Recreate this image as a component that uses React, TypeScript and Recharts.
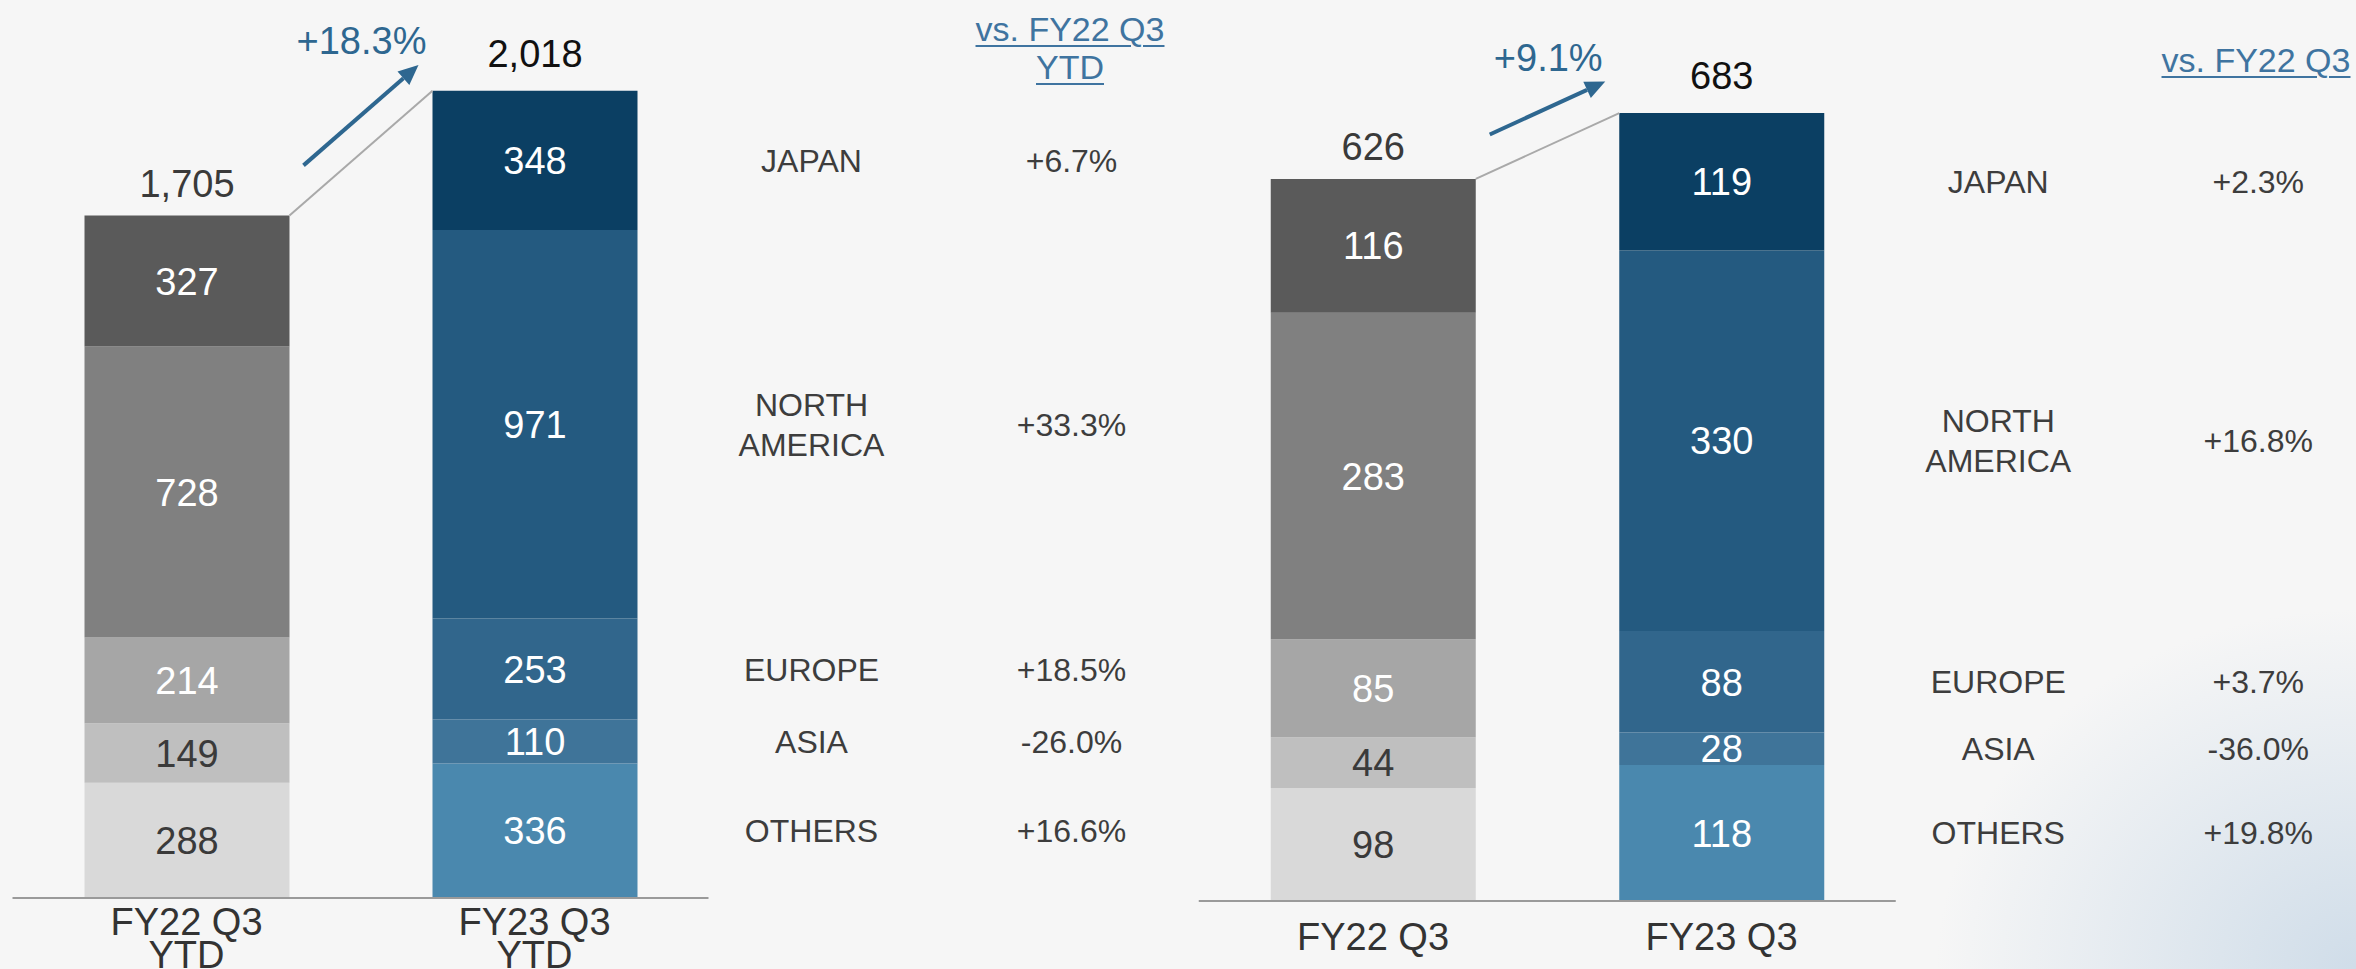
import React from "react";
import { BarChart, Bar, XAxis, YAxis, Cell, LabelList } from "recharts";

const regions = ["JAPAN", "NORTH AMERICA", "EUROPE", "ASIA", "OTHERS"];

// YTD panel
const ytdCategories = ["FY22 Q3\nYTD", "FY23 Q3\nYTD"];
const ytdFy22 = [327, 728, 214, 149, 288];
const ytdFy23 = [348, 971, 253, 110, 336];
const ytdGrowth = ["+6.7%", "+33.3%", "+18.5%", "-26.0%", "+16.6%"];
const ytdTotals = [1705, 2018];
const ytdTotalGrowth = "+18.3%";

// Q3 panel
const q3Categories = ["FY22 Q3", "FY23 Q3"];
const q3Fy22 = [116, 283, 85, 44, 98];
const q3Fy23 = [119, 330, 88, 28, 118];
const q3Growth = ["+2.3%", "+16.8%", "+3.7%", "-36.0%", "+19.8%"];
const q3Totals = [626, 683];
const q3TotalGrowth = "+9.1%";

const grays = ["#5a5a5a", "#808080", "#a6a6a6", "#bfbfbf", "#d9d9d9"];
const blues = ["#0b3f63", "#245a80", "#31668c", "#3f7499", "#4a88ae"];
const FONT = '"Liberation Sans", Arial, sans-serif';
const ACCENT = "#2e6790";

function getBox(p: any) {
  const vb = p.viewBox && p.viewBox.width != null ? p.viewBox : p;
  return {
    x: Number(vb.x),
    y: Number(vb.y),
    w: Number(vb.width),
    h: Number(vb.height),
  };
}

type PanelProps = {
  categories: string[];
  fy22: number[];
  fy23: number[];
  growth: string[];
  totals: number[];
  totalGrowth: string;
  domainMax: number;
  width: number;
  margin: { top: number; right: number; bottom: number; left: number };
  axisHeight: number;
  band: number;
  tickDy: number;
};

function Panel(props: PanelProps) {
  const { categories, fy22, fy23, growth, totals, totalGrowth, band } = props;
  const rows = categories.map((c, i) => {
    const row: any = { cat: c };
    regions.forEach((_, r) => {
      row["r" + r] = (i === 0 ? fy22 : fy23)[r];
    });
    return row;
  });
  const sum22 = fy22.reduce((a, b) => a + b, 0);
  const sum23 = fy23.reduce((a, b) => a + b, 0);

  const segmentLabel = (r: number) => (p: any) => {
    const { x, y, w, h } = getBox(p);
    const idx = p.index;
    const dark = idx === 0 && r >= 3;
    const cx = x + w / 2;
    const cy = y + h / 2;
    const parts: React.ReactNode[] = [
      <text
        key="v"
        x={cx}
        y={cy}
        dy="0.36em"
        textAnchor="middle"
        fontSize={38}
        fontFamily={FONT}
        fill={dark ? "#3a3a3a" : "#ffffff"}
      >
        {p.value}
      </text>,
    ];
    if (idx === 1) {
      const right = x + w;
      const lines = regions[r].split(" ");
      lines.forEach((ln, k) => {
        parts.push(
          <text
            key={"n" + k}
            x={right + 174}
            y={cy + (k - (lines.length - 1) / 2) * 40}
            dy="0.36em"
            textAnchor="middle"
            fontSize={32}
            fontFamily={FONT}
            fill="#3d3d3d"
          >
            {ln}
          </text>
        );
      });
      parts.push(
        <text
          key="g"
          x={right + 434}
          y={cy}
          dy="0.36em"
          textAnchor="middle"
          fontSize={32}
          fontFamily={FONT}
          fill="#3d3d3d"
        >
          {growth[r]}
        </text>
      );
    }
    return <g>{parts}</g>;
  };

  const topLabel = (p: any) => {
    const { x, y, w, h } = getBox(p);
    const idx = p.index;
    const parts: React.ReactNode[] = [
      <text
        key="t"
        x={x + w / 2}
        y={y - (idx === 0 ? 19 : 24)}
        textAnchor="middle"
        fontSize={38}
        fontFamily={FONT}
        fill={idx === 0 ? "#3a3a3a" : "#111111"}
      >
        {totals[idx].toLocaleString("en-US")}
      </text>,
    ];
    if (idx === 1) {
      const ppu = h / Number(p.value);
      const base = y + sum23 * ppu;
      const y22 = base - sum22 * ppu;
      const x22 = x - band + w;
      const slope = (y - y22) / (x - x22);
      const sx = x22 + 14;
      const ex = x - 14;
      const sy = y22 + slope * 14 - 38;
      const ey = y - slope * 14 - 38;
      const len = Math.hypot(ex - sx, ey - sy);
      const ux = (ex - sx) / len;
      const uy = (ey - sy) / len;
      const bx = ex - ux * 20;
      const by = ey - uy * 20;
      const nx = -uy;
      const ny = ux;
      parts.push(
        <line key="c" x1={x22} y1={y22} x2={x} y2={y} stroke="#a9a9a9" strokeWidth={2} />,
        <line key="a" x1={sx} y1={sy} x2={bx} y2={by} stroke={ACCENT} strokeWidth={4} />,
        <polygon
          key="h"
          points={`${ex},${ey} ${bx + nx * 9},${by + ny * 9} ${bx - nx * 9},${by - ny * 9}`}
          fill={ACCENT}
        />,
        <text
          key="g"
          x={ex - 57}
          y={ey - 11}
          textAnchor="middle"
          fontSize={38}
          fontFamily={FONT}
          fill={ACCENT}
        >
          {totalGrowth}
        </text>
      );
    }
    return <g>{parts}</g>;
  };

  const tick = (p: any) => {
    const lines = String(p.payload.value).split("\n");
    return (
      <g>
        {lines.map((ln, k) => (
          <text
            key={k}
            x={p.x}
            y={Number(p.y) + props.tickDy + k * 33}
            textAnchor="middle"
            fontSize={38}
            fontFamily={FONT}
            fill="#333333"
          >
            {ln}
          </text>
        ))}
      </g>
    );
  };

  return (
    <BarChart
      width={props.width}
      height={969}
      data={rows}
      margin={props.margin}
      style={{ overflow: "visible" }}
    >
      <XAxis
        dataKey="cat"
        height={props.axisHeight}
        tickSize={0}
        tickMargin={0}
        tickLine={false}
        axisLine={{ stroke: "#9a9a9a", strokeWidth: 2 }}
        tick={tick}
        interval={0}
      />
      <YAxis hide domain={[0, props.domainMax]} allowDataOverflow />
      {[4, 3, 2, 1, 0].map((r) => (
        <Bar
          key={r}
          dataKey={"r" + r}
          stackId="s"
          barSize={205}
          isAnimationActive={false}
        >
          {rows.map((_, i) => (
            <Cell key={i} fill={i === 0 ? grays[r] : blues[r]} />
          ))}
          <LabelList dataKey={"r" + r} content={segmentLabel(r)} />
          {r === 0 && <LabelList dataKey={"r" + r} content={topLabel} />}
        </Bar>
      ))}
    </BarChart>
  );
}

const headerStyle: React.CSSProperties = {
  position: "absolute",
  width: 300,
  textAlign: "center",
  fontFamily: FONT,
  fontSize: 34,
  lineHeight: "38px",
  color: "#3f74a0",
  textDecoration: "underline",
  textUnderlineOffset: 4,
  textDecorationThickness: 2,
  whiteSpace: "pre",
};

export default function App() {
  return (
    <div
      style={{
        position: "absolute",
        left: 0,
        top: 0,
        width: 2356,
        height: 969,
        overflow: "hidden",
        background:
          "radial-gradient(ellipse 420px 360px at 100% 100%, rgba(176,200,222,0.55), rgba(246,246,246,0) 100%), #f6f6f6",
      }}
    >
      <div style={{ position: "absolute", left: 0, top: 0 }}>
        <Panel
          categories={ytdCategories}
          fy22={ytdFy22}
          fy23={ytdFy23}
          growth={ytdGrowth}
          totals={ytdTotals}
          totalGrowth={ytdTotalGrowth}
          domainMax={2200}
          width={1180}
          margin={{ top: 18, right: 471.5, bottom: 0, left: 12.5 }}
          axisHeight={71}
          band={348}
          tickDy={37}
        />
      </div>
      <div style={{ position: "absolute", left: 1180, top: 0 }}>
        <Panel
          categories={q3Categories}
          fy22={q3Fy22}
          fy23={q3Fy23}
          growth={q3Growth}
          totals={q3Totals}
          totalGrowth={q3TotalGrowth}
          domainMax={760}
          width={1176}
          margin={{ top: 24.3, right: 460.25, bottom: 0, left: 18.75 }}
          axisHeight={68}
          band={348.5}
          tickDy={49}
        />
      </div>
      <div style={{ ...headerStyle, left: 920, top: 10 }}>{"vs. FY22 Q3\nYTD"}</div>
      <div style={{ ...headerStyle, left: 2106, top: 41 }}>{"vs. FY22 Q3"}</div>
    </div>
  );
}
